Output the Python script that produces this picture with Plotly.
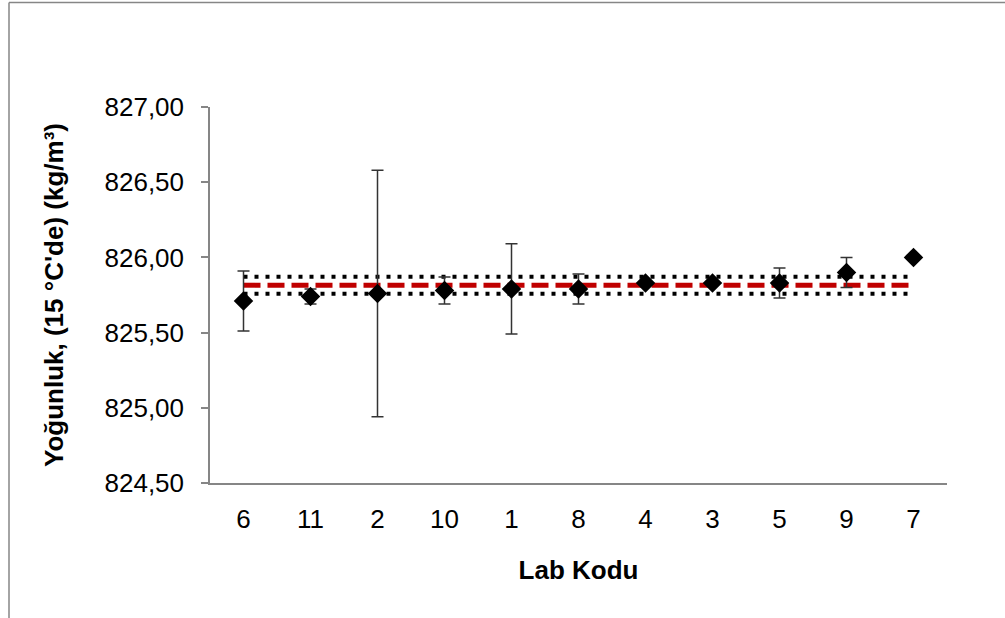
import plotly.graph_objects as go

labs = ["6", "11", "2", "10", "1", "8", "4", "3", "5", "9", "7"]
values = [825.71, 825.74, 825.76, 825.78, 825.79, 825.79, 825.83, 825.83, 825.83, 825.90, 826.00]
errors = [0.20, 0.05, 0.82, 0.09, 0.30, 0.10, 0.0, 0.0, 0.10, 0.10, 0.0]
mean_value = 825.815
band = 0.057
upper = [mean_value + band] * len(labs)
lower = [mean_value - band] * len(labs)
mean_line = [mean_value] * len(labs)

FONT = "Arial, Liberation Sans, sans-serif"
FS = 26

fig = go.Figure()
fig.add_trace(go.Scatter(x=labs, y=upper, mode="lines",
                         line=dict(color="black", width=4, dash="4px,7px"),
                         hoverinfo="skip", showlegend=False))
fig.add_trace(go.Scatter(x=labs, y=lower, mode="lines",
                         line=dict(color="black", width=4, dash="4px,7px"),
                         hoverinfo="skip", showlegend=False))
fig.add_trace(go.Scatter(x=labs, y=mean_line, mode="lines",
                         line=dict(color="#C00000", width=5, dash="17px,7px"),
                         hoverinfo="skip", showlegend=False))
fig.add_trace(go.Scatter(
    x=labs, y=values, mode="markers",
    marker=dict(symbol="diamond", size=15, color="black"),
    error_y=dict(type="data", array=errors, visible=True,
                 color="#333333", thickness=1.5, width=6),
    showlegend=False))

W, H = 1005, 618
L, R, T, B = 210, 58, 107, 135
pw, ph = W - L - R, H - T - B

def px(x):
    return (x - L) / pw

def py(y):
    return (H - B - y) / ph

fig.add_shape(type="line", xref="paper", yref="paper",
              x0=px(9), x1=px(9), y0=py(2.5), y1=py(640),
              line=dict(color="#868686", width=1.5))
fig.add_shape(type="line", xref="paper", yref="paper",
              x0=px(9), x1=px(1020), y0=py(2.5), y1=py(2.5),
              line=dict(color="#868686", width=1.5))

fig.update_layout(
    width=W, height=H,
    margin=dict(l=L, r=R, t=T, b=B),
    plot_bgcolor="white", paper_bgcolor="white",
    separators=",.",
    font=dict(family=FONT, size=FS, color="black"),
    xaxis=dict(
        type="category",
        showgrid=False, showline=True, linecolor="#868686", linewidth=1.5,
        ticks="", tickfont=dict(size=FS), ticklabelstandoff=12,
        title=dict(text="<b>Lab Kodu</b>", font=dict(size=FS), standoff=28),
        range=[-0.5, 10.5],
    ),
    yaxis=dict(
        range=[824.5, 827.0], dtick=0.5, tickformat=".2f",
        showgrid=False, zeroline=False, showline=True, linecolor="#868686", linewidth=1.5,
        ticks="outside", ticklen=7, tickcolor="#868686", tickwidth=1.5,
        tickfont=dict(size=FS), ticklabelstandoff=12,
        title=dict(text="<b>Yoğunluk, (15 °C'de) (kg/m³)</b>", font=dict(size=FS), standoff=33),
    ),
)

fig.write_html("out.html")
